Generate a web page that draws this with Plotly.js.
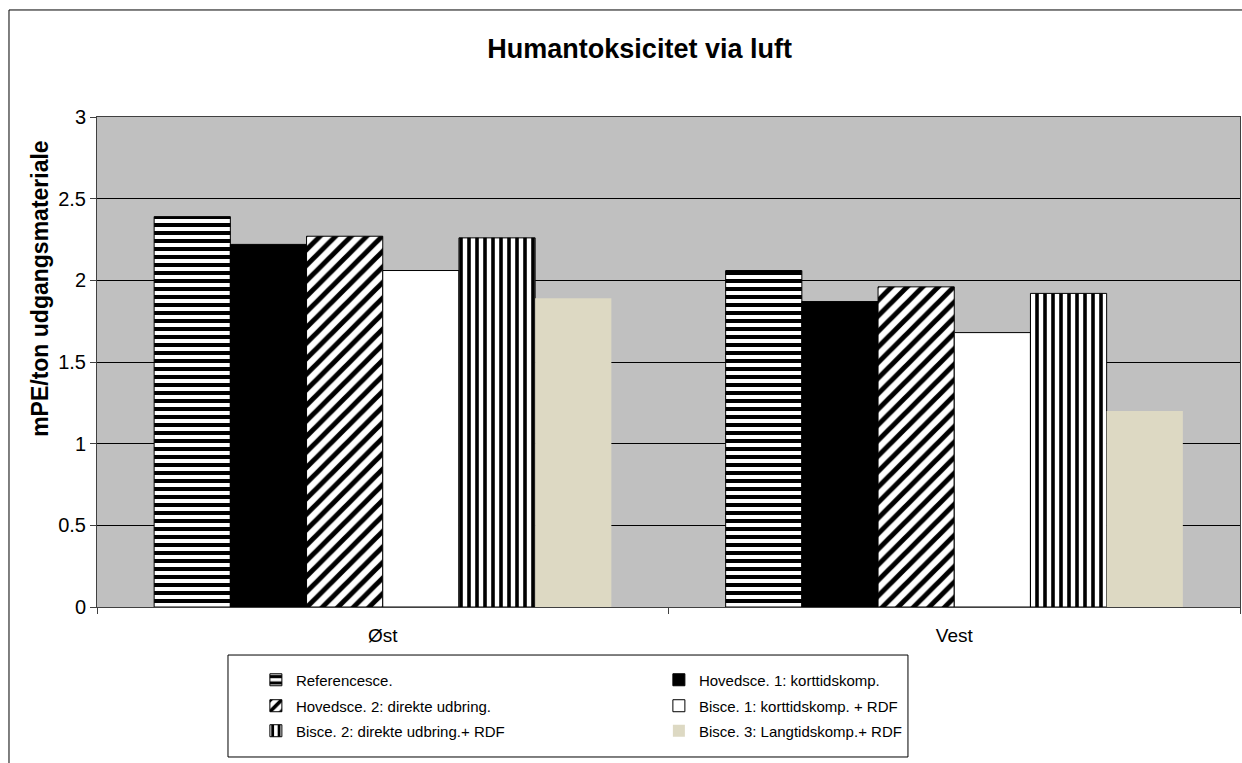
<!DOCTYPE html>
<html>
<head>
<meta charset="utf-8">
<script src="https://cdn.plot.ly/plotly-3.0.1.min.js"></script>
<style>
  html, body { margin: 0; padding: 0; background: #ffffff; }
  #chart { width: 1242px; height: 763px; }
</style>
</head>
<body>
<div id="chart"></div>
<script>
// ---- Data ----
var categories = ['Øst', 'Vest'];
var seriesNames = [
  'Referencesce.',
  'Hovedsce. 1: korttidskomp.',
  'Hovedsce. 2: direkte udbring.',
  'Bisce. 1: korttidskomp. + RDF',
  'Bisce. 2: direkte udbring.+ RDF',
  'Bisce. 3: Langtidskomp.+ RDF'
];
var referencesce = [2.39, 2.06];
var hovedsce1 = [2.22, 1.87];
var hovedsce2 = [2.27, 1.96];
var bisce1 = [2.06, 1.68];
var bisce2 = [2.26, 1.92];
var bisce3 = [1.89, 1.20];
var yTickVals = [0, 0.5, 1, 1.5, 2, 2.5, 3];
var yTickText = ['0', '0.5', '1', '1.5', '2', '2.5', '3'];
var chartTitle = 'Humantoksicitet via luft';
var yTitle = 'mPE/ton udgangsmateriale';

// ---- Styles ----
var seriesValues = [referencesce, hovedsce1, hovedsce2, bisce1, bisce2, bisce3];
var styles = [
  {color: '#ffffff', pattern: {shape: '-', fgcolor: '#000000', bgcolor: '#ffffff', size: 8, solidity: 0.5, fillmode: 'replace'}, line: {color: '#000000', width: 1}},
  {color: '#000000', line: {color: '#000000', width: 1}},
  {color: '#ffffff', pattern: {shape: '/', fgcolor: '#000000', bgcolor: '#ffffff', size: 11, solidity: 0.45, fillmode: 'replace'}, line: {color: '#000000', width: 1}},
  {color: '#ffffff', line: {color: '#000000', width: 1}},
  {color: '#ffffff', pattern: {shape: '|', fgcolor: '#000000', bgcolor: '#ffffff', size: 8, solidity: 0.45, fillmode: 'replace'}, line: {color: '#000000', width: 1}},
  {color: '#DDD9C3', line: {color: '#DDD9C3', width: 0}}
];
// one legend row per pair of series
var legendIds = ['legend', 'legend', 'legend2', 'legend2', 'legend3', 'legend3'];

var traces = seriesNames.map(function (name, i) {
  return {
    type: 'bar',
    name: name,
    x: categories,
    y: seriesValues[i],
    marker: styles[i],
    legend: legendIds[i],
    hoverinfo: 'x+y+name'
  };
});

var FONT = 'Liberation Sans, Arial, sans-serif';

function legendRow(yPos) {
  return {
    orientation: 'h',
    x: 0.139, xanchor: 'left',
    y: yPos, yanchor: 'middle',
    entrywidth: 358,
    entrywidthmode: 'pixels',
    bgcolor: 'rgba(0,0,0,0)',
    borderwidth: 0,
    font: {family: FONT, size: 15, color: '#000000'},
    itemwidth: 30,
    traceorder: 'normal'
  };
}

var layout = {
  width: 1242,
  height: 763,
  paper_bgcolor: '#ffffff',
  plot_bgcolor: '#C0C0C0',
  margin: {l: 97, r: 2, t: 117, b: 156, pad: 0},
  font: {family: FONT, color: '#000000'},
  title: {
    text: '<b>' + chartTitle + '</b>',
    font: {family: FONT, size: 27, color: '#000000'},
    x: 0.515, xanchor: 'center', xref: 'container',
    y: 0.937, yanchor: 'middle', yref: 'container'
  },
  barmode: 'group',
  bargap: 0.2,
  bargroupgap: 0,
  xaxis: {
    type: 'category',
    showgrid: false,
    showline: true,
    linecolor: '#404040',
    linewidth: 1,
    mirror: true,
    ticks: 'outside',
    tickson: 'boundaries',
    ticklen: 6,
    tickcolor: '#404040',
    ticklabelstandoff: 11,
    tickfont: {family: FONT, size: 19, color: '#000000'},
    zeroline: false,
    fixedrange: true
  },
  yaxis: {
    range: [0, 3],
    tickvals: yTickVals,
    ticktext: yTickText,
    showgrid: true,
    gridcolor: '#000000',
    gridwidth: 1,
    showline: true,
    linecolor: '#404040',
    linewidth: 1,
    mirror: true,
    ticks: 'outside',
    ticklen: 6,
    tickcolor: '#404040',
    tickfont: {family: FONT, size: 20, color: '#000000'},
    zeroline: false,
    fixedrange: true
  },
  showlegend: true,
  legend: legendRow(-0.149),
  legend2: legendRow(-0.202),
  legend3: legendRow(-0.253),
  annotations: [{
    text: '<b>' + yTitle + '</b>',
    textangle: -90,
    xref: 'paper', yref: 'paper',
    x: -0.05, y: 0.651,
    xanchor: 'center', yanchor: 'middle',
    showarrow: false,
    font: {family: FONT, size: 23, color: '#000000'}
  }],
  shapes: [
    {type: 'rect', xref: 'paper', yref: 'paper', x0: 0.1146, x1: 0.7095, y0: -0.3061, y1: -0.098,
     line: {color: '#000000', width: 1}, fillcolor: 'rgba(0,0,0,0)', layer: 'above'},
    {type: 'rect', xref: 'paper', yref: 'paper', x0: -0.077, x1: 1.02, y0: -0.4, y1: 1.2184,
     line: {color: '#000000', width: 1}, fillcolor: 'rgba(0,0,0,0)', layer: 'above'}
  ]
};

Plotly.newPlot('chart', traces, layout, {displayModeBar: false, staticPlot: true});
</script>
</body>
</html>
